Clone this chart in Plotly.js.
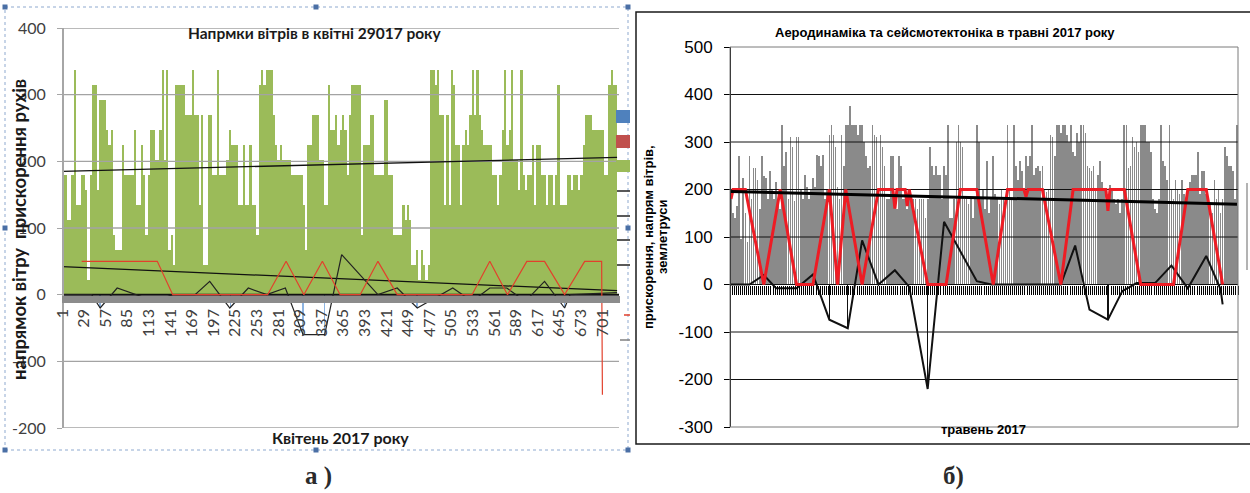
<!DOCTYPE html>
<html><head><meta charset="utf-8">
<script src="https://cdn.plot.ly/plotly-3.0.1.min.js"></script>
<style>html,body{margin:0;padding:0;background:#fff}#chart{width:1250px;height:493px}</style>
</head><body><div id="chart"></div>
<script>
// ================= Chart а) : April 2017 =================
const titleA = 'Напрмки вітрів в квітні 29017 року';
const xTitleA = 'Квітень 2017 року';
const yTitleA = 'напрямок вітру  прискорення рухів';
const yTicksA = [-200, -100, 0, 100, 200, 300, 400];
const yTickTextA = ['-200', '-100', '0', '100', '200', '300', '400'];
// wind direction, one value per 3-hour block (240 blocks = 720 hours)
const windDirApril = [
 225,180,112.5,112.5,180,337.5,135,135,180,180,
 157.5,22.5,180,315,315,157.5,292.5,292.5,292.5,247.5,
 225,247.5,90,67.5,67.5,67.5,225,180,180,180,
 180,247.5,135,135,225,180,90,180,247.5,247.5,
 202.5,202.5,247.5,337.5,202.5,337.5,67.5,90,45,315,
 315,315,315,270,270,270,337.5,270,270,135,
 270,45,45,270,270,180,180,337.5,180,180,
 180,202.5,247.5,225,225,225,135,135,225,135,
 135,225,135,135,90,315,337.5,315,337.5,337.5,
 337.5,270,225,202.5,225,202.5,202.5,202.5,202.5,180,
 180,180,180,180,135,67.5,225,225,270,270,
 270,202.5,202.5,135,135,315,247.5,247.5,270,225,
 247.5,270,247.5,180,270,315,315,315,315,90,
 225,225,225,270,270,180,180,180,180,292.5,
 292.5,180,180,90,90,90,90,135,112.5,135,
 112.5,45,45,67.5,22.5,67.5,45,22.5,45,337.5,
 337.5,315,337.5,270,270,135,270,135,337.5,315,
 225,225,135,225,247.5,225,270,337.5,270,337.5,
 270,247.5,225,225,225,225,180,180,135,180,
 247.5,337.5,225,247.5,337.5,202.5,202.5,157.5,337.5,180,
 157.5,180,180,225,135,225,225,180,180,135,
 180,180,135,180,315,135,135,135,180,180,
 157.5,180,180,157.5,180,225,270,270,270,247.5,
 247.5,247.5,247.5,247.5,180,180,315,337.5,315,315
];
// acceleration (blue bars) – hour index and value
const accelHourA = [50, 219, 313, 341, 461, 652];
const accelValA = [-20, -20, -60, -60, -20, -20];
// black thin line (hour index, value)
const seismoHourA = [1, 39, 50, 72, 121, 144, 173, 192, 218, 242, 266, 290, 313, 341, 363, 410, 435, 461, 507, 532, 555, 577, 601, 626, 652, 659, 720];
const seismoValA = [0, 0, -20, 10, -10, 0, 0, 20, -20, 10, 0, 10, -60, -60, 60, 0, 10, -20, 10, -10, 10, 10, -10, 20, -20, 0, 3];
// red line (hour index, value)
const redHourA = [26, 124, 144, 267, 291, 314, 338, 361, 387, 410, 435, 532, 555, 578, 603, 626, 652, 678, 700, 701];
const redValA = [50, 50, 0, 0, 50, 0, 50, 0, 0, 50, 0, 0, 50, 0, 50, 50, 0, 50, 50, -150];
// trend lines (end points)
const trendBarsHourA = [1, 720], trendBarsValA = [185, 206];
const trendLineHourA = [1, 720], trendLineValA = [42, 6];

// ================= Chart б) : May 2017 =================
const titleB = 'Аеродинаміка та сейсмотектоніка в травні 2017 року';
const xTitleB = 'травень 2017';
const yTitleB1 = 'прискорення, напрям вітрів,';
const yTitleB2 = 'землетруси';
const yTicksB = [-300, -200, -100, 0, 100, 200, 300, 400, 500];
const yTickTextB = ['-300', '-200', '-100', '0', '100', '200', '300', '400', '500'];
// gray bars, 248 observations (8 per day)
const windMay = [
 190,150,140,165,270,95,225,150,
 90,270,180,245,245,220,160,270,
 228,225,180,240,200,180,215,180,
 160,335,250,280,180,310,290,175,
 310,310,200,180,230,205,180,200,
 225,205,272,270,250,272,180,200,
 315,335,315,290,205,180,315,250,
 335,335,375,335,335,335,315,335,
 335,300,270,245,250,335,315,310,
 200,315,290,250,180,180,270,270,
 180,160,270,250,180,180,160,180,
 180,180,180,160,180,180,180,140,
 180,290,250,230,250,230,230,180,
 250,230,335,140,140,180,300,335,
 300,290,180,180,170,180,140,180,
 335,300,180,200,160,260,150,180,
 270,190,180,170,200,185,175,335,
 200,180,335,250,220,260,240,200,
 270,250,270,335,230,245,250,240,
 250,200,195,200,315,310,270,335,
 335,320,335,336,315,300,335,280,
 270,320,300,335,335,320,250,245,
 240,250,200,230,260,215,200,175,
 190,210,200,180,170,180,150,180,
 335,336,245,250,310,290,300,280,
 335,336,335,300,300,280,180,160,
 150,180,335,260,250,220,335,200,
 180,220,200,190,220,190,180,200,
 215,230,230,230,280,190,240,240,
 190,170,170,150,220,180,200,150,
 180,290,270,250,250,240,180,335
];
const redObsB = [1, 2, 8, 17, 25, 33, 41, 49, 53, 57, 65, 73, 80, 81, 82, 86, 87, 88, 97, 106, 113, 121, 129, 136, 144, 145, 146, 153, 162, 168, 184, 185, 186, 193, 201, 217, 224, 233, 241];
const redValB = [180, 200, 200, 0, 200, 0, 0, 200, 0, 200, 0, 200, 200, 160, 200, 200, 165, 200, 0, 0, 200, 200, 0, 200, 200, 185, 200, 200, 0, 200, 200, 155, 200, 200, 0, 0, 200, 200, 0];
const seismoObsB = [1, 10, 17, 23, 33, 41, 49, 58, 65, 73, 81, 88, 97, 105, 121, 128, 162, 169, 176, 185, 192, 199, 208, 216, 224, 233, 240, 241];
const seismoValB = [0, 0, 20, -8, -8, 21, -74, -92, 93, 0, 30, -5, -220, 132, 7, 0, 0, 82, -53, -74, -14, 3, 3, 40, -8, 60, -10, -42];
const quakeObsB = [49, 58, 97, 185];
const quakeValB = [-74, -92, -220, -74];
const trendObsB = [1, 248], trendValB = [196, 169];

// ================= helpers =================
const W = 1250, H = 493;
const px = x => x / W;
const py = y => 1 - y / H;
const blockHours = 3;
const greenX = windDirApril.map((v, i) => blockHours * i + 2);
const obsX = windMay.map((v, i) => i + 1);

const rangeXA = [0.5, 722.5], rangeYA = [-200, 400];
const domXA = [px(62), px(619)], domYA = [py(428), py(28)];
const rangeXB = [0.5, 248.5], rangeYB = [-300, 500];
const domXB = [px(730), px(1238)], domYB = [py(427), py(47)];
const zeroPos = (r, d) => d[0] + (0 - r[0]) / (r[1] - r[0]) * (d[1] - d[0]);

const traces = [];
// --- chart a
traces.push({type: 'bar', x: greenX, y: windDirApril, width: blockHours, marker: {color: '#9bbb59', line: {width: 0}}, xaxis: 'x', yaxis: 'y'});
traces.push({type: 'bar', x: accelHourA, y: accelValA, width: 2, marker: {color: '#8db4e2', line: {width: 0}}, xaxis: 'x', yaxis: 'y'});
yTicksA.filter(v => v !== 0).forEach(v => traces.push({type: 'scatter', mode: 'lines', x: rangeXA, y: [v, v], line: {color: '#a3a3a3', width: 1.3}, xaxis: 'x', yaxis: 'y'}));
traces.push({type: 'scatter', mode: 'lines', x: rangeXA, y: [0, 0], line: {color: '#111', width: 2}, xaxis: 'x', yaxis: 'y'});
traces.push({type: 'scatter', mode: 'lines', x: trendBarsHourA, y: trendBarsValA, line: {color: '#111', width: 1.3}, xaxis: 'x', yaxis: 'y'});
traces.push({type: 'scatter', mode: 'lines', x: trendLineHourA, y: trendLineValA, line: {color: '#111', width: 1.3}, xaxis: 'x', yaxis: 'y'});
traces.push({type: 'scatter', mode: 'lines', x: seismoHourA, y: seismoValA, line: {color: '#222', width: 1.2}, xaxis: 'x', yaxis: 'y'});
traces.push({type: 'scatter', mode: 'lines', x: redHourA, y: redValA, line: {color: '#e2402c', width: 1.2}, xaxis: 'x', yaxis: 'y'});
// --- chart b
traces.push({type: 'bar', x: obsX, y: windMay, width: 0.82, marker: {color: '#8a8a8a', line: {width: 0}}, xaxis: 'x2', yaxis: 'y2'});
traces.push({type: 'bar', x: quakeObsB, y: quakeValB, width: 0.6, marker: {color: '#111', line: {width: 0}}, xaxis: 'x2', yaxis: 'y2'});
yTicksB.filter(v => v > rangeYB[0] && v < rangeYB[1]).forEach(v => traces.push({type: 'scatter', mode: 'lines', x: rangeXB, y: [v, v], line: {color: '#111', width: 1}, xaxis: 'x2', yaxis: 'y2'}));
traces.push({type: 'scatter', mode: 'lines', x: seismoObsB, y: seismoValB, line: {color: '#111', width: 2}, xaxis: 'x2', yaxis: 'y2'});
traces.push({type: 'scatter', mode: 'lines', x: redObsB, y: redValB, line: {color: '#ee1c24', width: 3}, xaxis: 'x2', yaxis: 'y2'});
traces.push({type: 'scatter', mode: 'lines', x: trendObsB, y: trendValB, line: {color: '#000', width: 3}, xaxis: 'x2', yaxis: 'y2'});

const fontA = 'Lato, "Open Sans", sans-serif';
const fontB = '"Liberation Sans", Arial, sans-serif';
const fontSerif = '"Liberation Serif", "DejaVu Serif", serif';

const shapes = [];
// chart a frame (selected-chart dotted border + handles)
shapes.push({type: 'rect', xref: 'paper', yref: 'paper', x0: px(5), x1: px(628), y0: py(450), y1: py(7), line: {color: '#8ea9cf', width: 1, dash: 'dot'}});
[[5,7],[316,7],[628,7],[5,228],[628,228],[5,450],[316,450],[628,450]].forEach(([hx, hy]) =>
  shapes.push({type: 'rect', xref: 'paper', yref: 'paper', x0: px(hx - 2.5), x1: px(hx + 2.5), y0: py(hy + 2.5), y1: py(hy - 2.5), fillcolor: '#4a6fa5', line: {width: 0}}));
// clipped legend of chart a
[[110, 123, '#4f81bd'], [135, 148, '#c0504d'], [160, 172, '#9bbb59']].forEach(([a, b, c]) =>
  shapes.push({type: 'rect', xref: 'paper', yref: 'paper', x0: px(616), x1: px(630), y0: py(b), y1: py(a), fillcolor: c, line: {width: 0}}));
[[191, '#222', 617], [216, '#222', 617], [240, '#222', 617], [265, '#222', 617], [315, '#e2402c', 624], [340, '#808080', 620]].forEach(([ly, c, x0]) =>
  shapes.push({type: 'line', xref: 'paper', yref: 'paper', x0: px(x0), x1: px(630), y0: py(ly), y1: py(ly), line: {color: c, width: 1.5}}));
// chart b outer frame and plot border
shapes.push({type: 'rect', xref: 'paper', yref: 'paper', x0: px(636), x1: px(1253), y0: py(444), y1: py(12), line: {color: '#1a1a1a', width: 1.5}});
shapes.push({type: 'rect', xref: 'paper', yref: 'paper', x0: px(730), x1: px(1238), y0: py(427), y1: py(47), line: {color: '#7a7a7a', width: 1}});
shapes.push({type: 'line', xref: 'paper', yref: 'paper', x0: px(1247), x1: px(1247), y0: py(270), y1: py(183), line: {color: '#9a9a9a', width: 1.5}});

const annotations = [
  {text: '<b>' + titleA + '</b>', x: px(315), y: py(33), font: {family: fontA, size: 15.5, color: '#1a1a1a'}},
  {text: '<b>' + xTitleA + '</b>', x: px(340), y: py(437), font: {family: fontA, size: 16, color: '#1a1a1a'}},
  {text: '<b>' + yTitleA + '</b>', x: px(19), y: py(230), textangle: -90, font: {family: fontA, size: 18.5, color: '#1a1a1a'}},
  {text: '<b>' + titleB + '</b>', x: px(945), y: py(32), font: {family: fontB, size: 13, color: '#000'}},
  {text: '<b>' + xTitleB + '</b>', x: px(983), y: py(429), font: {family: fontB, size: 13, color: '#000'}},
  {text: '<b>' + yTitleB1 + '</b>', x: px(648), y: py(237), textangle: -90, font: {family: fontB, size: 13, color: '#000'}},
  {text: '<b>' + yTitleB2 + '</b>', x: px(662), y: py(237), textangle: -90, font: {family: fontB, size: 13, color: '#000'}},
  {text: '<b>а )</b>', x: px(318), y: py(476), font: {family: fontSerif, size: 25, color: '#2b2b2b'}},
  {text: '<b>б)</b>', x: px(953), y: py(476), font: {family: fontSerif, size: 25, color: '#2b2b2b'}}
].map(a => Object.assign({xref: 'paper', yref: 'paper', xanchor: 'center', yanchor: 'middle', showarrow: false}, a));

const layout = {
  width: W, height: H,
  margin: {l: 0, r: 0, t: 0, b: 0},
  paper_bgcolor: '#fff', plot_bgcolor: '#fff',
  showlegend: false, barmode: 'overlay', bargap: 0,
  xaxis: {
    domain: domXA, range: rangeXA, anchor: 'free', position: zeroPos(rangeYA, domYA),
    tickmode: 'linear', tick0: 1, dtick: 28, tickangle: -90,
    ticks: 'outside', ticklen: 7, tickcolor: '#8c8c8c', tickwidth: 1,
    minor: {tickmode: 'linear', tick0: 0.5, dtick: 1, ticks: 'outside', ticklen: 7, tickcolor: '#8c8c8c', tickwidth: 1, showgrid: false},
    tickfont: {family: fontA, size: 16, color: '#404040'},
    showgrid: false, zeroline: false, showline: false, fixedrange: true
  },
  yaxis: {
    domain: domYA, range: rangeYA, anchor: 'free', position: domXA[0],
    tickmode: 'array', tickvals: yTicksA, ticktext: yTickTextA,
    ticks: 'outside', ticklen: 5, tickcolor: '#a6a6a6', ticklabelstandoff: 8,
    tickfont: {family: fontA, size: 16, color: '#404040'},
    showline: true, linecolor: '#a6a6a6', linewidth: 1.5,
    showgrid: false, zeroline: false, fixedrange: true
  },
  xaxis2: {
    domain: domXB, range: rangeXB, anchor: 'free', position: zeroPos(rangeYB, domYB),
    tickmode: 'linear', tick0: 0.5, dtick: 1, showticklabels: false,
    ticks: 'outside', ticklen: 9, tickcolor: '#000', tickwidth: 1,
    showgrid: false, zeroline: false, showline: false, fixedrange: true
  },
  yaxis2: {
    domain: domYB, range: rangeYB, anchor: 'free', position: domXB[0],
    tickmode: 'array', tickvals: yTicksB, ticktext: yTickTextB,
    ticks: 'outside', ticklen: 6, tickcolor: '#000', ticklabelstandoff: 8,
    tickfont: {family: fontB, size: 17, color: '#000'},
    showline: true, linecolor: '#000', linewidth: 1,
    showgrid: false, zeroline: false, fixedrange: true
  },
  shapes: shapes,
  annotations: annotations
};

Plotly.newPlot('chart', traces, layout, {staticPlot: true, displayModeBar: false});
</script>
</body></html>
